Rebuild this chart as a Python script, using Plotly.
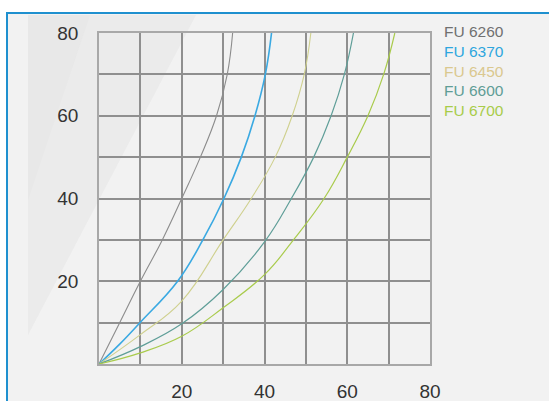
import plotly.graph_objects as go

# Curve data (x, y) for each model
series_names = ["FU 6260", "FU 6370", "FU 6450", "FU 6600", "FU 6700"]

fu6260_x = [0, 5, 10, 15.3, 20, 24.5, 28.4, 31.0, 32.3]
fu6260_y = [0, 10, 20, 30, 40, 50, 60, 70, 80]

fu6370_x = [0, 5, 10, 19.0, 25.1, 30.2, 34.4, 37.7, 40.2, 41.7]
fu6370_y = [0, 4.8, 10.1, 20, 30, 40, 50, 60, 70, 80]

fu6450_x = [0, 10, 20, 30, 36.8, 42.6, 46.7, 49.6, 51.2]
fu6450_y = [0, 7.1, 15.2, 30, 40, 50, 60, 70, 80]

fu6600_x = [0, 10, 20, 30, 40, 46.5, 51.9, 56.1, 59.3, 61.5]
fu6600_y = [0, 4.2, 9.7, 18, 29.5, 40, 50, 60, 70, 80]

fu6700_x = [0, 10, 20, 30, 40, 47.0, 54.4, 60.0, 65.0, 68.8, 71.5]
fu6700_y = [0, 2.7, 6.7, 13.6, 21.6, 30, 40, 50, 60, 70, 80]

tick_vals = [20, 40, 60, 80]
tick_text = ["20", "40", "60", "80"]

line_colors = ["#8c8c8c", "#3aa9e2", "#cfd08e", "#5f9e98", "#a9cb4c"]
label_colors = ["#707070", "#2ea6de", "#dac88f", "#609d96", "#a8cc4a"]
line_widths = [1.1, 1.6, 1.1, 1.2, 1.2]

xs = [fu6260_x, fu6370_x, fu6450_x, fu6600_x, fu6700_x]
ys = [fu6260_y, fu6370_y, fu6450_y, fu6600_y, fu6700_y]

fig = go.Figure()
for name, x, y, c, w in zip(series_names, xs, ys, line_colors, line_widths):
    fig.add_trace(go.Scatter(x=x, y=y, mode="lines", name=name,
                             line=dict(color=c, width=w, shape="spline", smoothing=1.2),
                             showlegend=False, hoverinfo="skip"))

# Plot area geometry in pixels
W, H = 549, 401
L, R, T, B = 99, 119, 33, 37
pw, ph = W - L - R, H - T - B


def px(xp):
    return (xp - L) / pw


def py(yp):
    return (H - B - yp) / ph


shapes = [
    # light panel with blue frame
    dict(type="rect", xref="paper", yref="paper",
         x0=px(7), x1=px(565), y0=py(420), y1=py(13),
         fillcolor="#f2f2f2", line=dict(color="#1f90cf", width=2), layer="below"),
    # soft diagonal sheen on the left
    dict(type="path", xref="paper", yref="paper",
         path=f"M {px(28)},{py(15)} L {px(196)},{py(15)} L {px(28)},{py(335)} Z",
         fillcolor="#e2e2e2", opacity=0.45, line=dict(width=0), layer="below"),
    dict(type="path", xref="paper", yref="paper",
         path=f"M {px(28)},{py(15)} L {px(90)},{py(15)} L {px(28)},{py(200)} Z",
         fillcolor="#e2e2e2", opacity=0.35, line=dict(width=0), layer="below"),
]

# labels for the series, stacked at the upper right
annotations = []
for i, (name, c) in enumerate(zip(series_names, label_colors)):
    annotations.append(dict(xref="paper", yref="paper", x=px(442), y=py(32 + 19.6 * i),
                            xanchor="left", yanchor="middle", showarrow=False,
                            text=name, font=dict(size=15.5, color=c,
                                                 family="Liberation Sans, Arial, sans-serif")))

grid_color = "#8f8f8f"
axis_common = dict(range=[0, 80], tickvals=tick_vals, ticktext=tick_text,
                   showgrid=True, gridcolor=grid_color, gridwidth=1.5,
                   showline=True, linecolor="#a8a8a8", linewidth=1.5, mirror=True,
                   zeroline=False, ticks="outside", tickcolor="rgba(0,0,0,0)",
                   tickfont=dict(size=19, color="#333333",
                                 family="Liberation Sans, Arial, sans-serif"),
                   minor=dict(dtick=10, tick0=0, showgrid=True, gridcolor=grid_color,
                              gridwidth=1.5, ticks=""),
                   automargin=False, fixedrange=True)

fig.update_layout(
    width=W, height=H,
    margin=dict(l=L, r=R, t=T, b=B, pad=0, autoexpand=False),
    paper_bgcolor="white",
    plot_bgcolor="rgba(0,0,0,0)",
    xaxis=dict(**axis_common, ticklen=9),
    yaxis=dict(**axis_common, ticklen=15),
    shapes=shapes,
    annotations=annotations,
)

fig.write_html("out.html")
